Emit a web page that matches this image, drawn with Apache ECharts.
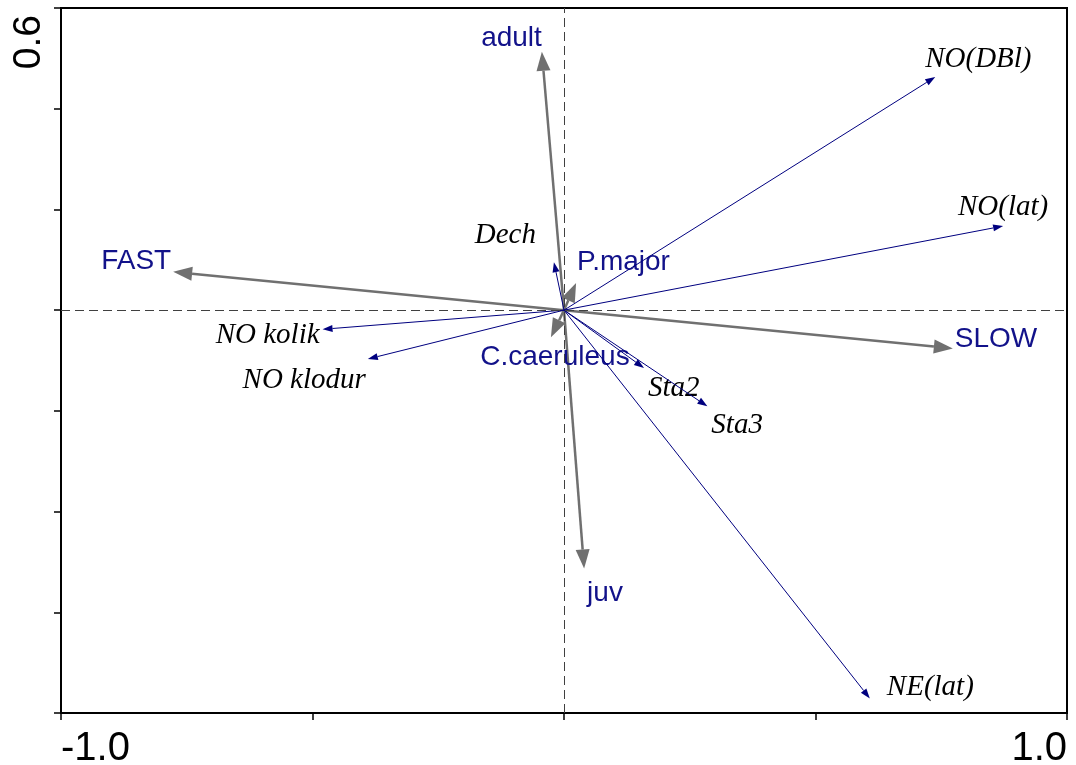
<!DOCTYPE html>
<html>
<head>
<meta charset="utf-8">
<script src="https://cdn.jsdelivr.net/npm/echarts@6/dist/echarts.min.js"></script>
<style>
  html, body { margin: 0; padding: 0; background: #fff; }
  #chart { width: 1076px; height: 765px; }
</style>
</head>
<body>
<div id="chart"></div>
<script>
// species / life-stage vectors (grey arrows, blue labels)
const speciesNames = ['adult', 'juv', 'FAST', 'SLOW', 'P.major', 'C.caeruleus'];
const speciesX = [-0.044, 0.040, -0.777, 0.773, 0.024, -0.026];
const speciesY = [0.513, -0.513, 0.076, -0.076, 0.054, -0.054];

// environmental vectors (thin blue arrows, italic labels)
const envNames = ['NO(DBl)', 'NO(lat)', 'NO kolik', 'NO klodur', 'Dech', 'Sta2', 'Sta3', 'NE(lat)'];
const envX = [0.738, 0.873, -0.480, -0.390, -0.020, 0.159, 0.285, 0.608];
const envY = [0.463, 0.167, -0.038, -0.097, 0.095, -0.115, -0.191, -0.771];

// only these ticks carry a label
const xTickLabels = ['-1.0', '1.0'];
const yTickLabels = ['0.6'];

// label placement next to the arrow tip: [align, dx, dy] in px
const speciesLabelPos = [
  ['right', 0, -14],
  ['left', 3, 25],
  ['right', -2, -11],
  ['left', 2, -9],
  ['left', 1, -21],
  ['center', 4, 20]
];
const envLabelPos = [
  ['left', -10, -18],
  ['center', 0, -19],
  ['right', -3, 6],
  ['right', -2, 21],
  ['right', -18, -27],
  ['left', 4, 20],
  ['left', 4, 19],
  ['left', 17, -11]
];

const chart = echarts.init(document.getElementById('chart'));

// 画箭头 + 标签
function arrowRenderer(names, layout, st) {
  return function (params, api) {
    const o = api.coord([0, 0]);
    const p = api.coord([api.value(0), api.value(1)]);
    const dx = p[0] - o[0];
    const dy = p[1] - o[1];
    const len = Math.sqrt(dx * dx + dy * dy) || 1;
    const ux = dx / len;
    const uy = dy / len;
    const bx = p[0] - ux * st.head;
    const by = p[1] - uy * st.head;
    const nx = -uy * st.half;
    const ny = ux * st.half;
    const lab = layout[params.dataIndex];
    return {
      type: 'group',
      children: [
        {
          type: 'line',
          shape: { x1: o[0], y1: o[1], x2: bx, y2: by },
          style: { stroke: st.color, lineWidth: st.width }
        },
        {
          type: 'polygon',
          shape: { points: [[p[0], p[1]], [bx + nx, by + ny], [bx - nx, by - ny]] },
          style: { fill: st.color }
        },
        {
          type: 'text',
          x: p[0] + lab[1],
          y: p[1] + lab[2],
          style: {
            text: names[params.dataIndex],
            align: lab[0],
            verticalAlign: 'middle',
            fill: st.textColor,
            fontSize: st.fontSize,
            fontFamily: st.font,
            fontStyle: st.fontStyle
          }
        }
      ]
    };
  };
}

const option = {
  animation: false,
  backgroundColor: '#fff',
  grid: {
    left: 61,
    right: 9,
    top: 8,
    bottom: 52,
    show: true,
    borderColor: '#000',
    borderWidth: 2,
    outerBoundsMode: 'none'
  },
  xAxis: {
    type: 'value',
    min: -1,
    max: 1,
    interval: 0.5,
    axisLine: { show: true, onZero: false, lineStyle: { color: '#000', width: 2 } },
    axisTick: { show: true, length: 7, lineStyle: { color: '#000', width: 1.5 } },
    splitLine: { show: false },
    axisLabel: {
      margin: 16,
      fontSize: 40,
      color: '#000',
      fontFamily: 'Liberation Sans, Arial, sans-serif',
      showMinLabel: true,
      showMaxLabel: true,
      alignMinLabel: 'left',
      alignMaxLabel: 'right',
      formatter: function (v) {
        const s = v.toFixed(1);
        return xTickLabels.indexOf(s) >= 0 ? s : '';
      }
    }
  },
  yAxis: {
    type: 'value',
    min: -0.8,
    max: 0.6,
    interval: 0.2,
    axisLine: { show: true, onZero: false, lineStyle: { color: '#000', width: 2 } },
    axisTick: { show: true, length: 7, lineStyle: { color: '#000', width: 1.5 } },
    splitLine: { show: false },
    axisLabel: {
      rotate: 90,
      margin: 12,
      align: 'right',
      padding: [0, 7, 0, 0],
      fontSize: 39,
      color: '#000',
      fontFamily: 'Liberation Sans, Arial, sans-serif',
      showMinLabel: true,
      showMaxLabel: true,
      formatter: function (v) {
        const s = v.toFixed(1);
        return yTickLabels.indexOf(s) >= 0 ? s : '';
      }
    }
  },
  series: [
    {
      // dashed zero lines
      type: 'line',
      data: [],
      z: 1,
      markLine: {
        silent: true,
        symbol: ['none', 'none'],
        label: { show: false },
        lineStyle: { color: '#404040', type: [9, 5], width: 1 },
        data: [{ xAxis: 0 }, { yAxis: 0 }]
      }
    },
    {
      type: 'custom',
      z: 3,
      data: speciesX.map((x, i) => [x, speciesY[i]]),
      encode: { x: 0, y: 1 },
      renderItem: arrowRenderer(speciesNames, speciesLabelPos, {
        color: '#707070',
        width: 2.5,
        head: 19,
        half: 7,
        textColor: '#12128a',
        fontSize: 28,
        font: 'Liberation Sans, Arial, sans-serif',
        fontStyle: 'normal'
      })
    },
    {
      type: 'custom',
      z: 4,
      data: envX.map((x, i) => [x, envY[i]]),
      encode: { x: 0, y: 1 },
      renderItem: arrowRenderer(envNames, envLabelPos, {
        color: '#00007f',
        width: 1,
        head: 10,
        half: 3.5,
        textColor: '#000',
        fontSize: 29,
        font: 'Liberation Serif, Times New Roman, serif',
        fontStyle: 'italic'
      })
    }
  ]
};

chart.setOption(option);
</script>
</body>
</html>
